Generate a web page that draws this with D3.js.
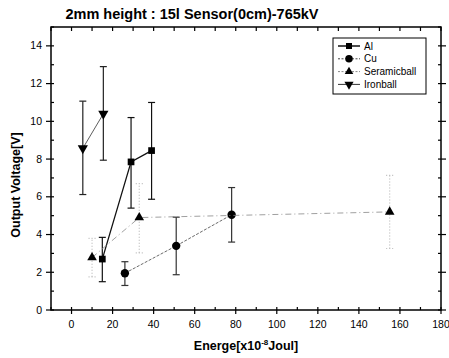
<!DOCTYPE html>
<html>
<head>
<meta charset="utf-8">
<script src="https://cdn.jsdelivr.net/npm/d3@7"></script>
<style>
  body { margin: 0; background: #fff; }
  text { font-family: "Liberation Sans", Arial, sans-serif; }
</style>
</head>
<body>
<svg id="chart" width="449" height="358"></svg>
<script>
// data
const alX = [15, 29, 39];
const alY = [2.7, 7.85, 8.45];
const alLo = [1.5, 5.4, 5.87];
const alHi = [3.85, 10.2, 11.0];

const cuX = [26, 51, 78];
const cuY = [1.95, 3.4, 5.05];
const cuLo = [1.3, 1.87, 3.6];
const cuHi = [2.56, 4.92, 6.49];

const serX = [10, 33, 155];
const serY = [2.78, 4.9, 5.2];
const serLo = [1.76, 3.03, 3.26];
const serHi = [3.8, 6.7, 7.14];

const ironX = [5.5, 15.5];
const ironY = [8.57, 10.4];
const ironLo = [6.12, 7.94];
const ironHi = [11.07, 12.9];

const xTicks = [0, 20, 40, 60, 80, 100, 120, 140, 160, 180];
const yTicks = [0, 2, 4, 6, 8, 10, 12, 14];

const svg = d3.select('#chart');
const x = d3.scaleLinear().domain([-10, 180]).range([51, 441]);
const y = d3.scaleLinear().domain([0, 15]).range([310, 27]);

const zip = (xs, ys, lo, hi) => xs.map((v, i) => ({ x: v, y: ys[i], lo: lo[i], hi: hi[i] }));
const series = [
  { name: 'Al', data: zip(alX, alY, alLo, alHi), shape: d3.symbolSquare, size: 45, stroke: '#111', width: 1.3, dash: null, err: '#111', errDash: null },
  { name: 'Cu', data: zip(cuX, cuY, cuLo, cuHi), shape: d3.symbolCircle, size: 55, stroke: '#444', width: 0.8, dash: '3,1.5', err: '#333', errDash: null },
  { name: 'Seramicball', data: zip(serX, serY, serLo, serHi), shape: d3.symbolTriangle, size: 40, stroke: '#888', width: 0.8, dash: '6,3,1,3', err: '#bbb', errDash: '1,2' },
  { name: 'Ironball', data: zip(ironX, ironY, ironLo, ironHi), shape: d3.symbolTriangle, size: 45, stroke: '#333', width: 0.8, dash: null, err: '#222', errDash: null, flip: true }
];

// frame
svg.append('rect')
  .attr('x', x(-10)).attr('y', y(15))
  .attr('width', x(180) - x(-10)).attr('height', y(0) - y(15))
  .attr('fill', 'none').attr('stroke', '#000').attr('stroke-width', 1.5);

// ticks
const xMinor = d3.range(-10, 181, 10);
const yMinor = d3.range(0, 16, 1);
const tg = svg.append('g').attr('stroke', '#000').attr('stroke-width', 1.2);
xMinor.forEach(v => {
  const major = v % 20 === 0;
  tg.append('line').attr('x1', x(v)).attr('x2', x(v))
    .attr('y1', y(0) - 3).attr('y2', y(0) + (major ? 4 : 0));
  tg.append('line').attr('x1', x(v)).attr('x2', x(v))
    .attr('y1', y(15)).attr('y2', y(15) + 4);
});
yMinor.forEach(v => {
  const major = v % 2 === 0;
  tg.append('line').attr('y1', y(v)).attr('y2', y(v))
    .attr('x1', x(-10) - (major ? 5 : 0)).attr('x2', x(-10) + 3);
  tg.append('line').attr('y1', y(v)).attr('y2', y(v))
    .attr('x1', x(180) - 3).attr('x2', x(180) + (major ? 5 : 0));
});

svg.append('g').selectAll('text').data(xTicks).enter().append('text')
  .attr('x', d => x(d)).attr('y', 328)
  .attr('text-anchor', 'middle').attr('font-size', 10.5)
  .text(d => d);

svg.append('g').selectAll('text').data(yTicks).enter().append('text')
  .attr('x', 42).attr('y', d => y(d) + 3.5)
  .attr('text-anchor', 'end').attr('font-size', 10.5)
  .text(d => d);

// error bars, lines, markers
series.forEach(s => {
  const g = svg.append('g');
  const eb = g.append('g').attr('stroke', s.err).attr('stroke-width', 1.2)
    .attr('stroke-dasharray', s.errDash);
  s.data.forEach(d => {
    eb.append('line').attr('x1', x(d.x)).attr('x2', x(d.x)).attr('y1', y(d.lo)).attr('y2', y(d.hi));
    [d.lo, d.hi].forEach(v => {
      eb.append('line').attr('x1', x(d.x) - 3.5).attr('x2', x(d.x) + 3.5).attr('y1', y(v)).attr('y2', y(v));
    });
  });
  g.append('path').datum(s.data)
    .attr('fill', 'none').attr('stroke', s.stroke).attr('stroke-width', s.width)
    .attr('stroke-dasharray', s.dash)
    .attr('d', d3.line().x(d => x(d.x)).y(d => y(d.y)));
  g.selectAll('path.m').data(s.data).enter().append('path').attr('class', 'm')
    .attr('transform', d => `translate(${x(d.x)},${y(d.y)})` + (s.flip ? ' rotate(180)' : ''))
    .attr('d', d3.symbol().type(s.shape).size(s.size))
    .attr('fill', '#000');
});

// legend
const lg = svg.append('g').attr('transform', 'translate(333,38)');
lg.append('rect').attr('width', 93).attr('height', 56)
  .attr('fill', '#fff').attr('stroke', '#000').attr('stroke-width', 1);
series.forEach((s, i) => {
  const ly = 8 + i * 12.8;
  lg.append('line').attr('x1', 5).attr('x2', 27).attr('y1', ly).attr('y2', ly)
    .attr('stroke', s.stroke).attr('stroke-width', s.width + 0.2).attr('stroke-dasharray', s.dash ? '2,1.5' : null);
  lg.append('path')
    .attr('transform', `translate(16,${ly})` + (s.flip ? ' rotate(180)' : ''))
    .attr('d', d3.symbol().type(s.shape).size(s.size * 0.8))
    .attr('fill', '#000');
  lg.append('text').attr('x', 31).attr('y', ly + 3.5).attr('font-size', 10).text(s.name);
});

// titles
svg.append('text').attr('x', 192).attr('y', 19).attr('text-anchor', 'middle')
  .attr('font-size', 14.5).attr('font-weight', 'bold').text('2mm height : 15l Sensor(0cm)-765kV');

const xl = svg.append('text').attr('x', 246).attr('y', 350).attr('text-anchor', 'middle')
  .attr('font-size', 12.5).attr('font-weight', 'bold');
xl.append('tspan').text('Energe[x10');
xl.append('tspan').attr('dy', -5).attr('font-size', 8).text('-8');
xl.append('tspan').attr('dy', 5).text('Joul]');

svg.append('text').attr('transform', 'translate(20,185) rotate(-90)')
  .attr('text-anchor', 'middle').attr('font-size', 12.5).attr('font-weight', 'bold')
  .text('Output Voltage[V]');
</script>
</body>
</html>
